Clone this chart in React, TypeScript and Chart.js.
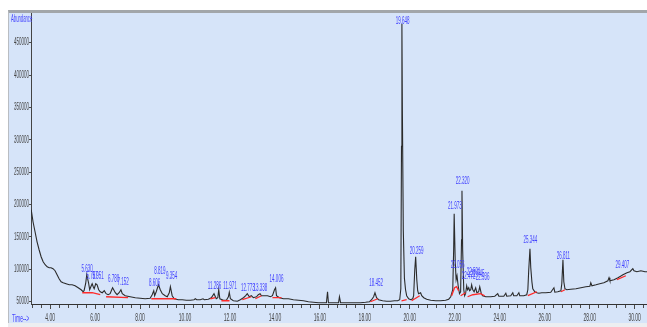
import React, { useEffect, useRef } from "react";
import { Chart, registerables } from "chart.js";

Chart.register(...registerables);

// Retention time (min) of traced points of the total ion chromatogram
const times = [
  3.16, 3.24, 3.33, 3.42, 3.51, 3.6, 3.69, 3.78, 3.87, 3.96, 4.04, 4.13, 4.22, 4.31, 4.4, 4.49, 4.58, 4.71, 4.85, 4.98,
  5.11, 5.25, 5.38, 5.47, 5.51, 5.58, 5.63, 5.71, 5.76, 5.83, 5.87, 5.92, 5.96, 6.03, 6.09, 6.16, 6.23, 6.32, 6.41, 6.49,
  6.58, 6.67, 6.74, 6.78, 6.9, 6.98, 7.07, 7.15, 7.21, 7.34, 7.56, 7.79, 8.01, 8.23, 8.45, 8.54, 8.61, 8.65, 8.72, 8.82,
  8.9, 8.99, 9.12, 9.21, 9.3, 9.35, 9.43, 9.52, 9.7, 9.88, 10.06, 10.24, 10.4, 10.46, 10.52, 10.68, 10.8, 10.86, 11.04, 11.17,
  11.29, 11.39, 11.46, 11.5, 11.55, 11.71, 11.84, 11.93, 11.97, 12.02, 12.15, 12.33, 12.46, 12.6, 12.7, 12.77, 12.86, 12.95, 13.04, 13.18,
  13.26, 13.34, 13.4, 13.53, 13.67, 13.8, 13.89, 13.98, 14.03, 14.07, 14.2, 14.38, 14.6, 14.82, 15.05, 15.27, 15.49, 15.71, 15.94, 16.29,
  16.34, 16.38, 16.83, 16.87, 16.92, 17.36, 17.81, 18.03, 18.21, 18.3, 18.39, 18.45, 18.52, 18.61, 18.79, 18.97, 19.14, 19.32, 19.46, 19.55,
  19.6, 19.63, 19.648, 19.67, 19.71, 19.76, 19.81, 19.86, 19.95, 20.04, 20.13, 20.17, 20.22, 20.26, 20.31, 20.35, 20.39, 20.48, 20.53, 20.62,
  20.75, 20.93, 21.15, 21.37, 21.59, 21.73, 21.82, 21.91, 21.95, 21.973, 22.02, 22.06, 22.1, 22.15, 22.21, 22.26, 22.3, 22.32, 22.35, 22.4,
  22.44, 22.48, 22.53, 22.57, 22.62, 22.66, 22.71, 22.75, 22.8, 22.86, 22.93, 22.98, 23.06, 23.11, 23.18, 23.24, 23.38, 23.6, 23.78, 23.91,
  23.96, 24.18, 24.27, 24.31, 24.49, 24.58, 24.62, 24.76, 24.85, 24.89, 25.07, 25.2, 25.25, 25.29, 25.344, 25.38, 25.43, 25.47, 25.56, 25.65,
  25.74, 25.87, 26.05, 26.27, 26.41, 26.45, 26.58, 26.72, 26.76, 26.811, 26.85, 26.9, 26.98, 27.16, 27.39, 27.61, 27.83, 28.01, 28.05, 28.1,
  28.28, 28.45, 28.63, 28.81, 28.86, 28.9, 29.08, 29.26, 29.407, 29.48, 29.66, 29.79, 29.92, 29.97, 30.1, 30.28, 30.46, 30.55,
];

// Abundance of each traced point
const abundance = [
  192000, 173500, 158100, 142600, 130300, 119500, 111800, 107100, 104000, 102500, 102500, 101000, 97900, 91700, 85500, 80900, 79300, 77800, 76200, 76200,
  74700, 71600, 68500, 65400, 67000, 77800, 91700, 79300, 68500, 74700, 77800, 73200, 70100, 77800, 76200, 68500, 65400, 63900, 67000, 62400,
  60800, 62400, 68500, 71600, 63900, 60800, 63900, 68500, 62400, 59300, 57700, 56200, 55400, 54600, 55400, 60800, 67000, 59300, 65400, 76200,
  68500, 62400, 59300, 57700, 63900, 73200, 59300, 54600, 53100, 53100, 52300, 52300, 53100, 54600, 53100, 53100, 54600, 53100, 53900, 56200,
  62400, 54600, 56200, 68500, 54600, 52300, 52300, 57700, 64700, 54600, 51500, 50800, 53100, 56200, 59300, 62400, 57700, 59300, 56200, 57700,
  60800, 62400, 59300, 59300, 59300, 57700, 59300, 68500, 71600, 59300, 56200, 54600, 54600, 53100, 52300, 51500, 50000, 49200, 48500, 48500,
  65400, 48500, 48500, 57700, 48500, 48500, 48500, 49200, 50000, 53100, 57700, 63900, 56200, 53100, 51500, 50800, 50800, 51500, 51500, 53100,
  70000, 290000, 479200, 340000, 160000, 86000, 68500, 59300, 54600, 53100, 54600, 59300, 99400, 119500, 84000, 67000, 62400, 63900, 59300, 56200,
  53900, 52300, 51500, 51500, 52300, 53900, 57700, 68500, 130300, 185900, 111800, 84000, 90100, 74700, 62400, 65400, 145700, 221400, 130300, 68500,
  59300, 62400, 74700, 68500, 71600, 67000, 68500, 76200, 68500, 65400, 71600, 63900, 65400, 73200, 62400, 59300, 57700, 57700, 58500, 62400,
  58500, 58500, 63100, 58500, 59300, 63900, 59300, 59300, 63900, 59300, 59300, 60800, 68500, 99400, 131800, 102500, 80900, 70100, 65400, 63900,
  63100, 63900, 63900, 64700, 71600, 64700, 65400, 67000, 77800, 114800, 80900, 70100, 68500, 69300, 70100, 71600, 73200, 73900, 79300, 74700,
  76200, 77800, 79300, 82400, 87100, 82400, 84000, 87100, 90100, 91700, 94800, 96300, 101000, 97900, 96300, 97900, 96300, 96300,
];

// Integration baselines (null separates segments)
const baseTimes = [
  5.43, 5.87, 6.23, null, 6.49, 7.47, null, 8.5, 9.61, null, 11.13, 11.35, null, 11.62, 11.98, null,
  12.55, 12.95, null, 13.13, 13.4, null, 13.89, 14.29, null, 18.25, 18.57, null, 19.63, 19.86, null,
  20.08, 20.44, null, 21.86, 21.99, 22.08, 22.17, null, 22.26, 22.48, null, 22.57, 22.8, 23.15, 23.33, null,
  25.25, 25.65, null, 26.72, 26.9, null, 29.21, 29.61,
];
const baseValues = [
  63900, 63900, 60800, null, 57700, 56200, null, 54600, 54600, null, 54600, 56200, null, 51500, 51500, null,
  53100, 57700, null, 54600, 59300, null, 56200, 56200, null, 50000, 54600, null, 51500, 53100, null,
  51500, 59300, null, 59300, 71600, 73200, 66900, null, 59300, 63900, null, 57700, 60800, 62400, 59300, null,
  59300, 65400, null, 65400, 68500, null, 84000, 90100,
];

// Peak annotations
const peakLabels = [
  "5.630", "5.787", "5.951", "6.780", "7.152", "8.606", "8.819", "9.354", "11.286", "11.971", "12.773", "13.338",
  "14.006", "18.452", "19.648", "20.259", "21.973", "22.320", "22.056", "22.472", "22.591", "22.745", "22.936",
  "25.344", "26.811", "29.407",
];
const peakLabelTimes = [
  5.65, 5.87, 6.14, 6.83, 7.25, 8.65, 8.88, 9.41, 11.31, 12.0, 12.8, 13.35,
  14.07, 18.5, 19.68, 20.3, 22.0, 22.35, 22.13, 22.62, 22.84, 23.02, 23.24,
  25.36, 26.83, 29.46,
];
const peakLabelHeights = [
  100000, 89000, 89000, 85000, 80100, 78600, 97100, 89400, 73900, 73900, 70800, 70800,
  84000, 78600, 483900, 128700, 196700, 235300, 107100, 90100, 94800, 93200, 87100,
  144200, 121000, 106400,
];

const yTickValues = [50000, 100000, 150000, 200000, 250000, 300000, 350000, 400000, 450000];
const xMajorTicks = [4, 6, 8, 10, 12, 14, 16, 18, 20, 22, 24, 26, 28, 30];
const xMinorStep = 0.4;

const FONT = "'Liberation Sans', Arial, sans-serif";

const isMajor = (v: number) => xMajorTicks.some((m) => Math.abs(m - v) < 1e-6);

function squeezedText(ctx: any, text: string, x: number, y: number, sx: number) {
  ctx.save();
  ctx.translate(x, y);
  ctx.scale(sx, 1);
  ctx.fillText(text, 0, 0);
  ctx.restore();
}

const textPlugin = {
  id: "chromText",
  afterDraw(chart: any) {
    const { ctx, scales } = chart;
    const x = scales.x;
    const y = scales.y;
    ctx.save();
    // peak labels
    ctx.fillStyle = "#4343ff";
    ctx.font = `10px ${FONT}`;
    ctx.textAlign = "center";
    ctx.textBaseline = "middle";
    peakLabels.forEach((lbl, i) => {
      squeezedText(ctx, lbl, x.getPixelForValue(peakLabelTimes[i]), y.getPixelForValue(peakLabelHeights[i]), 0.45);
    });
    // y tick labels
    ctx.fillStyle = "#444444";
    ctx.font = `10px ${FONT}`;
    ctx.textAlign = "right";
    y.ticks.forEach((t: any) => {
      squeezedText(ctx, String(t.value), y.right - 2, y.getPixelForValue(t.value), 0.45);
    });
    // x tick labels
    ctx.textAlign = "center";
    x.ticks.forEach((t: any) => {
      if (!isMajor(t.value)) return;
      squeezedText(ctx, Number(t.value).toFixed(2), x.getPixelForValue(t.value), x.top + 14, 0.5);
    });
    ctx.restore();
  },
};

export default function App() {
  const ref = useRef<HTMLCanvasElement | null>(null);

  useEffect(() => {
    if (!ref.current) return;
    const xTicks: number[] = [];
    for (let i = 0; ; i++) {
      const v = Math.round((3.2 + i * xMinorStep) * 10) / 10;
      if (v > 30.5) break;
      xTicks.push(v);
    }
    const trace = times.map((t, i) => ({ x: t, y: abundance[i] }));
    const base = baseTimes.map((t, i) => ({
      x: t === null ? (baseTimes[i - 1] as number) : t,
      y: baseValues[i],
    }));
    const chart = new Chart(ref.current, {
      type: "line",
      data: {
        datasets: [
          {
            data: base as any,
            borderColor: "#ff2a2a",
            borderWidth: 1.3,
            pointRadius: 0,
            spanGaps: false,
            tension: 0,
          },
          {
            data: trace as any,
            borderColor: "#2b2b2b",
            borderWidth: 1.1,
            pointRadius: 0,
            tension: 0,
          },
        ],
      },
      options: {
        responsive: false,
        animation: false,
        devicePixelRatio: 1,
        layout: { padding: { top: 13, left: 0, right: 0, bottom: 0 } },
        plugins: { legend: { display: false }, tooltip: { enabled: false } },
        scales: {
          x: {
            type: "linear",
            min: 3.15,
            max: 30.55,
            afterBuildTicks: (s: any) => {
              s.ticks = xTicks.map((v) => ({ value: v }));
            },
            afterFit: (s: any) => {
              s.height = 23;
            },
            grid: {
              display: true,
              drawOnChartArea: false,
              drawTicks: true,
              tickLength: 5,
              tickColor: "#4a4a4a",
              tickBorderDash: (c: any) => (c.tick && isMajor(c.tick.value) ? [] : [3, 30]),
            },
            border: { display: true, color: "#333", width: 1 },
            ticks: { display: false, autoSkip: false, maxRotation: 0, minRotation: 0 },
          },
          y: {
            type: "linear",
            min: 46500,
            max: 495900,
            afterBuildTicks: (s: any) => {
              s.ticks = yTickValues.map((v) => ({ value: v }));
            },
            afterFit: (s: any) => {
              s.width = 31;
            },
            grid: {
              display: true,
              drawOnChartArea: false,
              tickLength: 2,
              tickColor: "#4a4a4a",
            },
            border: { display: true, color: "#444", dash: [2, 2], width: 1 },
            ticks: { display: false },
          },
        },
      },
      plugins: [textPlugin],
    } as any);
    return () => chart.destroy();
  }, []);

  return (
    <div
      style={{
        position: "absolute",
        left: 0,
        top: 0,
        width: 647,
        height: 327,
        background: "#ffffff",
        overflow: "hidden",
      }}
    >
      <div
        style={{
          position: "absolute",
          left: 8,
          top: 10,
          width: 639,
          height: 313,
          background: "#d6e4f9",
          borderTop: "3px solid #a2a6aa",
          borderLeft: "1px solid #b9bdc2",
          boxSizing: "border-box",
        }}
      />
      <div style={{ position: "absolute", left: 8, top: 323, width: 639, height: 4, background: "#eceef1" }} />
      <canvas
        ref={ref}
        width={647}
        height={327}
        style={{ position: "absolute", left: 0, top: 0, width: 647, height: 327 }}
      />
      <span
        style={{
          position: "absolute",
          left: 11,
          top: 14,
          fontFamily: FONT,
          fontSize: 10,
          lineHeight: "10px",
          color: "#4343ff",
          transform: "scaleX(0.42)",
          transformOrigin: "0 0",
          whiteSpace: "nowrap",
        }}
      >
        Abundance
      </span>
      <span
        style={{
          position: "absolute",
          left: 12,
          top: 314,
          fontFamily: FONT,
          fontSize: 10,
          lineHeight: "10px",
          color: "#4343ff",
          transform: "scaleX(0.5)",
          transformOrigin: "0 0",
          whiteSpace: "nowrap",
        }}
      >
        Time--&gt;
      </span>
    </div>
  );
}
